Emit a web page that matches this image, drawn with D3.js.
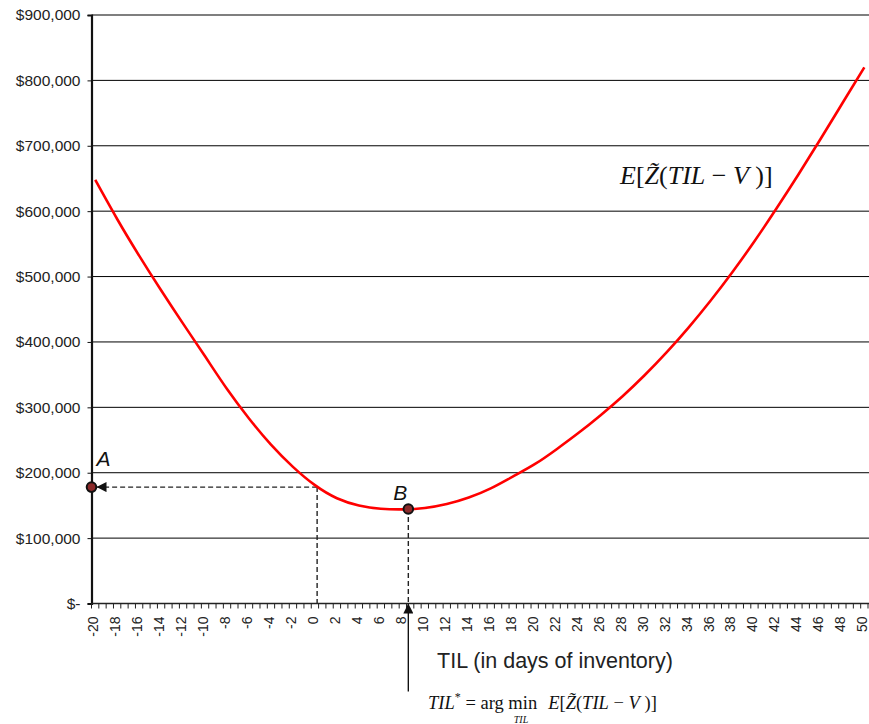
<!DOCTYPE html>
<html>
<head>
<meta charset="utf-8">
<script src="https://cdnjs.cloudflare.com/ajax/libs/d3/7.8.5/d3.min.js"></script>
<style>
  body { margin: 0; background: #fff; }
  svg { display: block; }
</style>
</head>
<body>
<div id="chart"></div>
<script>
// expected cost curve (TIL in days, cost in $)
var tilDays = [-20, -18, -16, -14, -12, -10, -8, -6, -4, -2, 0, 2, 4, 6, 8, 10, 12, 14,
               16, 18, 20, 22, 24, 26, 28, 30, 32, 34, 36, 38, 40, 42, 44, 46, 48, 50];
var costValues = [648000, 588000, 532000, 479000, 428000, 378000, 328000, 283000, 243000, 209000,
                  181000, 161000, 150000, 145000, 144000, 146000, 152000, 162000, 176000, 194000,
                  213000, 236000, 261000, 288000, 317000, 349000, 384000, 422000, 463000, 507000,
                  554000, 604000, 656000, 710000, 765000, 820000];

var yTickValues = [0, 100000, 200000, 300000, 400000, 500000, 600000, 700000, 800000, 900000];
var xTickLabels = [-20, -18, -16, -14, -12, -10, -8, -6, -4, -2, 0, 2, 4, 6, 8, 10, 12, 14,
                   16, 18, 20, 22, 24, 26, 28, 30, 32, 34, 36, 38, 40, 42, 44, 46, 48, 50];

// annotated points
var pointA = {til: -20.333, cost: 178000};
var dropTil = 0.2;                            // TIL where the dashed read-off starts
var pointB = {til: 8.5, cost: 144500};        // minimum

var width = 869, height = 724;

var svg = d3.select("#chart").append("svg")
  .attr("width", width)
  .attr("height", height);

var x = d3.scaleLinear()
  .domain([-20.333, 50.333])
  .range([91.5, 868]);

var y = d3.scaleLinear()
  .domain([0, 900000])
  .range([603.5, 15]);

var defs = svg.append("defs");
defs.append("marker")
  .attr("id", "arrow")
  .attr("viewBox", "0 0 10 10")
  .attr("refX", 10).attr("refY", 5)
  .attr("markerWidth", 10).attr("markerHeight", 10)
  .attr("markerUnits", "userSpaceOnUse")
  .attr("orient", "auto")
  .append("path")
  .attr("d", "M0,0 L10,5 L0,10 z")
  .attr("fill", "#111");

// gridlines
svg.append("g")
  .selectAll("line")
  .data(yTickValues.filter(d => d > 0))
  .enter().append("line")
  .attr("x1", x.range()[0]).attr("x2", width)
  .attr("y1", d => y(d)).attr("y2", d => y(d))
  .attr("stroke", d => d === 900000 ? "#7f7f7f" : "#000")
  .attr("stroke-width", d => d === 900000 ? 2 : 1);

// y axis
var yAxis = d3.axisLeft(y)
  .tickValues(yTickValues)
  .tickSize(4)
  .tickPadding(7)
  .tickFormat(d => d === 0 ? "$-" : "$" + d3.format(",")(d));

var yg = svg.append("g")
  .attr("transform", `translate(${x.range()[0]},0)`)
  .call(yAxis);
yg.select(".domain").attr("stroke", "#111").attr("stroke-width", 2.2);
yg.selectAll(".tick line").attr("stroke", "#111");
yg.selectAll("text")
  .attr("font-family", "Liberation Sans, Arial, sans-serif")
  .attr("font-size", 15.5)
  .attr("fill", "#222");

// x axis: minor ticks every 2/3 day, labels every 2 days
var minorTicks = d3.range(0, 107).map(i => -20.333 + i * 2 / 3);
var xg = svg.append("g");
xg.append("line")
  .attr("x1", x.range()[0]).attr("x2", width)
  .attr("y1", y(0)).attr("y2", y(0))
  .attr("stroke", "#222").attr("stroke-width", 1.6);
xg.selectAll("line.minor")
  .data(minorTicks)
  .enter().append("line")
  .attr("class", "minor")
  .attr("x1", d => x(d)).attr("x2", d => x(d))
  .attr("y1", y(0)).attr("y2", y(0) + 5)
  .attr("stroke", "#222");
xg.selectAll("text")
  .data(xTickLabels)
  .enter().append("text")
  .attr("transform", d => `translate(${x(d) + 3},${y(0) + 13}) rotate(-90)`)
  .attr("text-anchor", "end")
  .attr("font-family", "Liberation Sans, Arial, sans-serif")
  .attr("font-size", 14)
  .attr("fill", "#222")
  .text(d => d);

svg.append("text")
  .attr("x", 555).attr("y", 668)
  .attr("text-anchor", "middle")
  .attr("font-family", "Liberation Sans, Arial, sans-serif")
  .attr("font-size", 21.5)
  .attr("fill", "#222")
  .text("TIL (in days of inventory)");

// dashed read-off lines
var dash = svg.append("g")
  .attr("stroke", "#222")
  .attr("stroke-width", 1.4)
  .attr("stroke-dasharray", "5,3")
  .attr("fill", "none");
dash.append("line")
  .attr("x1", x(dropTil)).attr("y1", y(pointA.cost))
  .attr("x2", x(pointA.til) + 5).attr("y2", y(pointA.cost))
  .attr("marker-end", "url(#arrow)");
dash.append("line")
  .attr("x1", x(dropTil)).attr("y1", y(pointA.cost))
  .attr("x2", x(dropTil)).attr("y2", y(0));
dash.append("line")
  .attr("x1", x(pointB.til)).attr("y1", y(pointB.cost))
  .attr("x2", x(pointB.til)).attr("y2", y(0));

// solid arrow from the bottom formula
svg.append("line")
  .attr("x1", x(pointB.til)).attr("y1", y(0) + 88)
  .attr("x2", x(pointB.til)).attr("y2", y(0))
  .attr("stroke", "#111").attr("stroke-width", 1.4)
  .attr("marker-end", "url(#arrow)");

// the curve
var line = d3.line()
  .x((d, i) => x(tilDays[i]))
  .y(d => y(d))
  .curve(d3.curveNatural);

svg.append("path")
  .datum(costValues)
  .attr("d", line)
  .attr("fill", "none")
  .attr("stroke", "#ff0000")
  .attr("stroke-width", 2.6);

// points A and B
svg.selectAll("circle.pt")
  .data([pointA, pointB])
  .enter().append("circle")
  .attr("class", "pt")
  .attr("cx", d => x(d.til))
  .attr("cy", d => y(d.cost))
  .attr("r", 4.8)
  .attr("fill", "#8b2a2a")
  .attr("stroke", "#111")
  .attr("stroke-width", 2);

svg.append("text")
  .attr("x", x(pointA.til) + 5).attr("y", y(pointA.cost) - 21)
  .attr("font-family", "Liberation Sans, Arial, sans-serif")
  .attr("font-style", "italic")
  .attr("font-size", 21)
  .attr("fill", "#111")
  .text("A");
svg.append("text")
  .attr("x", x(pointB.til) - 15).attr("y", y(pointB.cost) - 9)
  .attr("font-family", "Liberation Sans, Arial, sans-serif")
  .attr("font-style", "italic")
  .attr("font-size", 21)
  .attr("fill", "#111")
  .text("B");

// formula builder
function formula(sel, parts, gap) {
  parts.forEach((p, i) => {
    sel.append("tspan")
      .attr("font-style", p[1] ? "italic" : "normal")
      .attr("dx", i === 0 ? gap : null)
      .text(p[0]);
  });
}
var eParts = [["E", true], ["[", false], ["Z\u0303", true], ["(", false], ["TIL", true],
              [" \u2212 ", false], ["V", true], [" )]", false]];

var f1 = svg.append("text")
  .attr("x", 620).attr("y", 184)
  .attr("font-family", "Liberation Serif, Times New Roman, serif")
  .attr("font-size", 26)
  .attr("fill", "#111");
formula(f1, eParts, 0);

var f2 = svg.append("text")
  .attr("x", 428).attr("y", 709)
  .attr("font-family", "Liberation Serif, Times New Roman, serif")
  .attr("font-size", 18.5)
  .attr("fill", "#111");
f2.append("tspan").attr("font-style", "italic").text("TIL");
f2.append("tspan").attr("font-size", 12).attr("dy", -8).text("*");
f2.append("tspan").attr("dy", 8).text(" = arg min");
formula(f2, eParts, 11);

svg.append("text")
  .attr("x", 521).attr("y", 723)
  .attr("text-anchor", "middle")
  .attr("font-family", "Liberation Serif, Times New Roman, serif")
  .attr("font-style", "italic")
  .attr("font-size", 10)
  .attr("fill", "#111")
  .text("TIL");
</script>
</body>
</html>
